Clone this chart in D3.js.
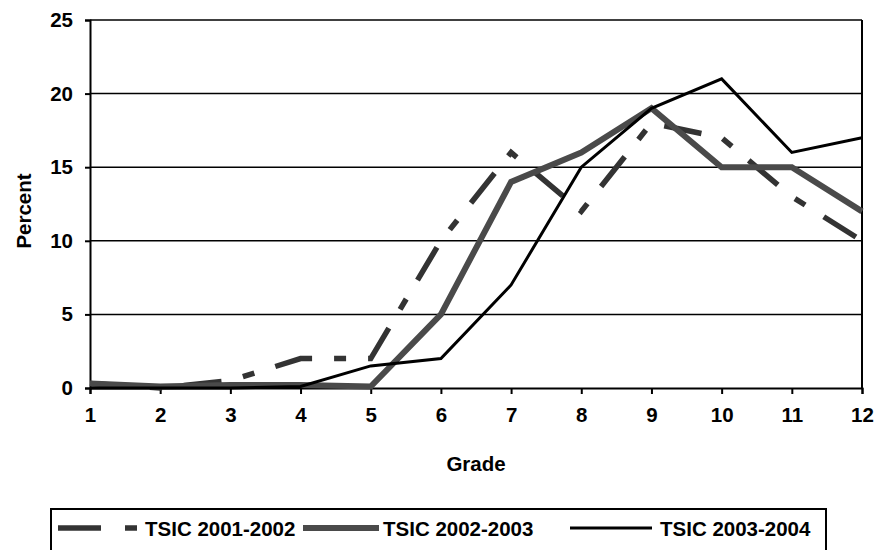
<!DOCTYPE html>
<html>
<head>
<meta charset="utf-8">
<script src="https://cdn.jsdelivr.net/npm/d3@7/dist/d3.min.js"></script>
<style>
  body { margin: 0; background: #fff; }
  text { font-family: "Liberation Sans", Arial, sans-serif; font-weight: bold; fill: #000; }
</style>
</head>
<body>
<svg id="chart" width="880" height="550"></svg>
<script>
// grades on the x axis
const grades = [1, 2, 3, 4, 5, 6, 7, 8, 9, 10, 11, 12];
const yTicks = [0, 5, 10, 15, 20, 25];

// percent per grade
const tsic0102 = [0.3, 0, 0.5, 2, 2, 10, 16, 12, 18, 17, 13, 10];
const tsic0203 = [0.3, 0.1, 0.2, 0.2, 0.1, 5, 14, 16, 19, 15, 15, 12];
const tsic0304 = [0, 0, 0, 0.1, 1.5, 2, 7, 15, 19, 21, 16, 17];

const seriesNames = ['TSIC 2001-2002', 'TSIC 2002-2003', 'TSIC 2003-2004'];

const svg = d3.select('#chart');
const margin = { left: 90, right: 18, top: 20, bottom: 162 };
const W = 880, H = 550;
const fontSize = '20.5px';

const x = d3.scaleLinear()
    .domain([1, 12])
    .range([margin.left, W - margin.right]);
const y = d3.scaleLinear()
    .domain([0, 25])
    .range([H - margin.bottom, margin.top]);

// gridlines
svg.append('g')
    .selectAll('line')
    .data(yTicks.filter(d => d > 0))
    .join('line')
    .attr('x1', x(1)).attr('x2', x(12))
    .attr('y1', d => y(d)).attr('y2', d => y(d))
    .attr('stroke', '#000')
    .attr('stroke-width', 1.5);

// right border
svg.append('line')
    .attr('x1', x(12)).attr('x2', x(12))
    .attr('y1', y(25)).attr('y2', y(0))
    .attr('stroke', '#000').attr('stroke-width', 2);

// axes
const yAxis = svg.append('g')
    .attr('transform', `translate(${x(1)},0)`)
    .call(d3.axisLeft(y).tickValues(yTicks).tickSize(5).tickPadding(12));
const xAxis = svg.append('g')
    .attr('transform', `translate(0,${y(0)})`)
    .call(d3.axisBottom(x).tickValues(grades).tickSize(6).tickPadding(13));

[yAxis, xAxis].forEach(ax => {
    ax.select('.domain').attr('stroke', '#000').attr('stroke-width', 2);
    ax.selectAll('.tick line').attr('stroke', '#000').attr('stroke-width', 2);
    ax.selectAll('.tick text')
        .attr('font-size', fontSize)
        .attr('font-family', '"Liberation Sans", Arial, sans-serif')
        .attr('font-weight', 'bold')
        .attr('fill', '#000');
});

// axis titles
svg.append('text')
    .attr('x', (x(1) + x(12)) / 2)
    .attr('y', 471)
    .attr('text-anchor', 'middle')
    .attr('font-size', fontSize)
    .text('Grade');

svg.append('text')
    .attr('transform', `translate(31,${(y(0) + y(25)) / 2 + 7}) rotate(-90)`)
    .attr('text-anchor', 'middle')
    .attr('font-size', fontSize)
    .text('Percent');

// line styles
const styles = [
    { stroke: '#333', width: 5.5, dash: '38,22,12,22' },
    { stroke: '#4a4a4a', width: 6, dash: null },
    { stroke: '#000', width: 3, dash: null }
];
const allSeries = [tsic0102, tsic0203, tsic0304];

const line = d3.line()
    .x((d, i) => x(grades[i]))
    .y(d => y(d));

allSeries.forEach((vals, k) => {
    svg.append('path')
        .datum(vals)
        .attr('d', line)
        .attr('fill', 'none')
        .attr('stroke', styles[k].stroke)
        .attr('stroke-width', styles[k].width)
        .attr('stroke-dasharray', styles[k].dash)
        .attr('stroke-linejoin', 'miter');
});

// legend
svg.append('rect')
    .attr('x', 51).attr('y', 509)
    .attr('width', 775).attr('height', 60)
    .attr('fill', 'none')
    .attr('stroke', '#000')
    .attr('stroke-width', 2);

const legendItems = [
    { x1: 58, x2: 137, tx: 145 },
    { x1: 303, x2: 379, tx: 383 },
    { x1: 570, x2: 652, tx: 660 }
];
legendItems.forEach((it, k) => {
    svg.append('line')
        .attr('x1', it.x1).attr('x2', it.x2)
        .attr('y1', 528).attr('y2', 528)
        .attr('stroke', styles[k].stroke)
        .attr('stroke-width', styles[k].width)
        .attr('stroke-dasharray', k === 0 ? '43,24,12,40' : null);
    svg.append('text')
        .attr('x', it.tx)
        .attr('y', 536)
        .attr('font-size', fontSize)
        .text(seriesNames[k]);
});
</script>
</body>
</html>
